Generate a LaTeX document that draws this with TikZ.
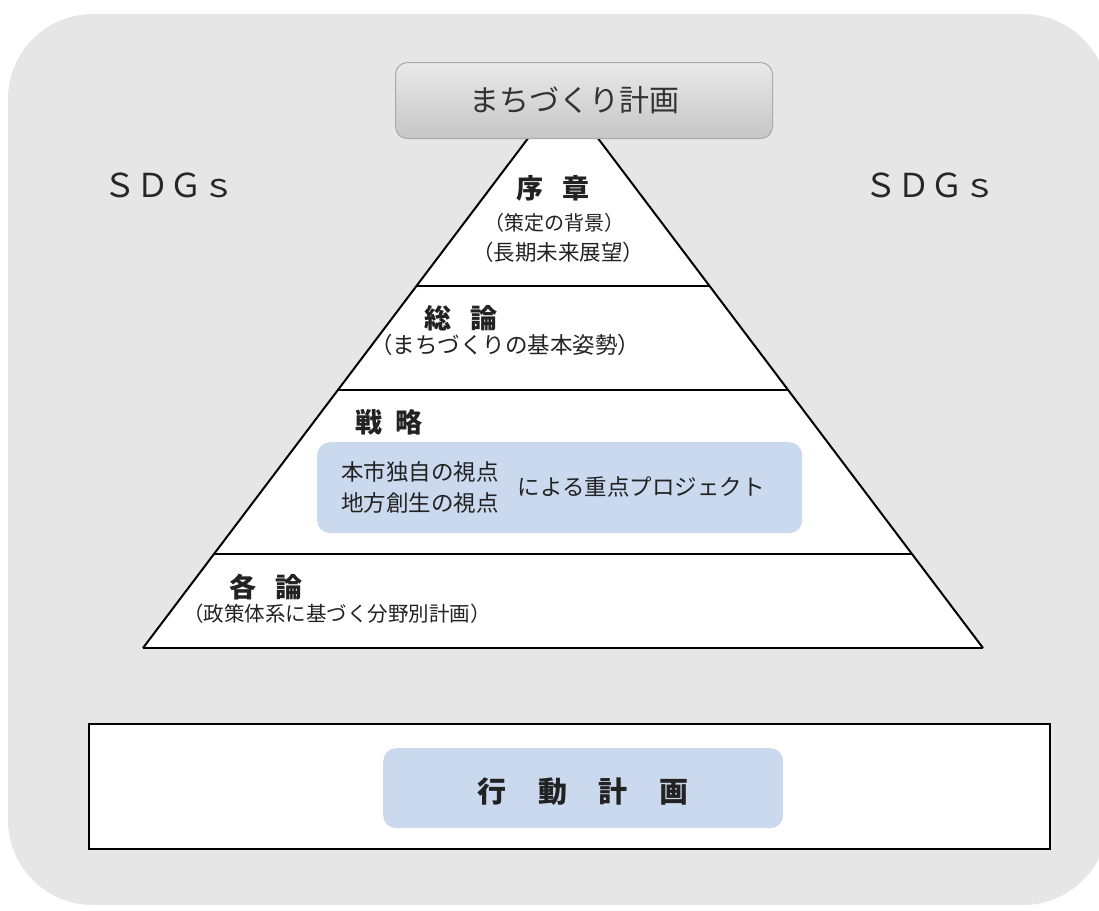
\documentclass[tikz,border=0pt]{standalone}
\usepackage{fontspec}
\setmainfont{Noto Sans CJK JP}
\usetikzlibrary{calc}
\definecolor{bggray}{HTML}{E6E6E6}
\definecolor{bluebox}{HTML}{CBD9EE}
\definecolor{txt}{HTML}{222222}
\definecolor{boxtop}{HTML}{E9E9E9}
\definecolor{boxbot}{HTML}{C6C6C6}
\definecolor{boxline}{HTML}{AAAAAA}
\newcommand{\fs}[1]{\fontsize{#1}{#1}\selectfont}
\tikzset{
  lbl/.style={inner sep=0pt, text=txt},
  head/.style={lbl, font=\fs{27}\bfseries},
  sub/.style={lbl, font=\fs{20}},
  body/.style={lbl, font=\fs{22.5}},
  tier/.style={line width=2pt, draw=black},
  bluerect/.style={fill=bluebox, draw=none, rounded corners=13pt},
}
\begin{document}
\begin{tikzpicture}[x=1pt,y=-1pt]
\useasboundingbox (0,0) rectangle (1099,910);
\clip (0,0) rectangle (1099,910);
% background
\fill[bggray, rounded corners=85pt] (8,14) rectangle (1108,905);
% pyramid
\coordinate (apex) at (563,92);
\coordinate (bl) at (143,648);
\coordinate (br) at (983,648);
\fill[white] (apex) -- (br) -- (bl) -- cycle;
\draw[tier] ($(apex)!0.3489!(bl)$) -- ($(apex)!0.3489!(br)$);
\draw[tier] ($(apex)!0.536!(bl)$) -- ($(apex)!0.536!(br)$);
\draw[tier] ($(apex)!0.831!(bl)$) -- ($(apex)!0.831!(br)$);
\draw[tier, line width=2.6pt, line join=miter] (bl) -- (br);
\draw[tier] (apex) -- (bl);
\draw[tier] (apex) -- (br);
% top box
\node[draw=boxline, line width=1pt, rounded corners=12pt, top color=boxtop, bottom color=boxbot,
      minimum width=377pt, minimum height=76pt, anchor=north west, inner sep=0pt] (top) at (395,62) {};
\node[lbl, font=\fs{30}, text=black!80] (toptext) at ([xshift=-10pt]top.center) {まちづくり計画};
% SDGs
\node[lbl, font=\fs{33}, text=black!85] (sdgl) at (169,185) {ＳＤＧｓ};
\node[lbl, font=\fs{33}, text=black!85] (sdgr) at (930,185) {ＳＤＧｓ};
% tier 1
\node[head] (joshou) at (553,188) {序\hspace{0.7em}章};
\node[sub] (j1) at (554,223) {（策定の背景）};
\node[sub, font=\fs{21.5}] (j2) at (558,252) {（長期未来展望）};
% tier 2
\node[head] (souron) at (461,318) {総\hspace{0.7em}論};
\node[body, anchor=west] (s1) at (370,345) {（まちづくりの基本姿勢）};
% tier 3
\node[head] (senryaku) at (389,422) {戦\hspace{0.5em}略};
\node[bluerect, minimum width=485pt, minimum height=91pt, anchor=north west, inner sep=0pt] (proj) at (317,442) {};
\node[body, anchor=west] (p1) at (341,472) {本市独自の視点};
\node[body, anchor=west] (p2) at (341,503) {地方創生の視点};
\node[body, anchor=east] (p3) at (765,487) {による重点プロジェクト};
% tier 4
\node[head] (kakuron) at (266,587) {各\hspace{0.7em}論};
\node[sub, font=\fs{20.5}, anchor=west] (k1) at (183,614) {（政策体系に基づく分野別計画）};
% action plan
\node[draw=black, line width=2.4pt, fill=white, minimum width=961pt, minimum height=125pt, anchor=north west, inner sep=0pt] (act) at (88,723) {};
\node[bluerect, minimum width=400pt, minimum height=80pt, anchor=north west, inner sep=0pt] (actin) at (383,748) {};
\node[lbl, font=\fs{29}\bfseries] (acttext) at (583,792) {行\hspace{1.1em}動\hspace{1.1em}計\hspace{1.1em}画};
\end{tikzpicture}
\end{document}
